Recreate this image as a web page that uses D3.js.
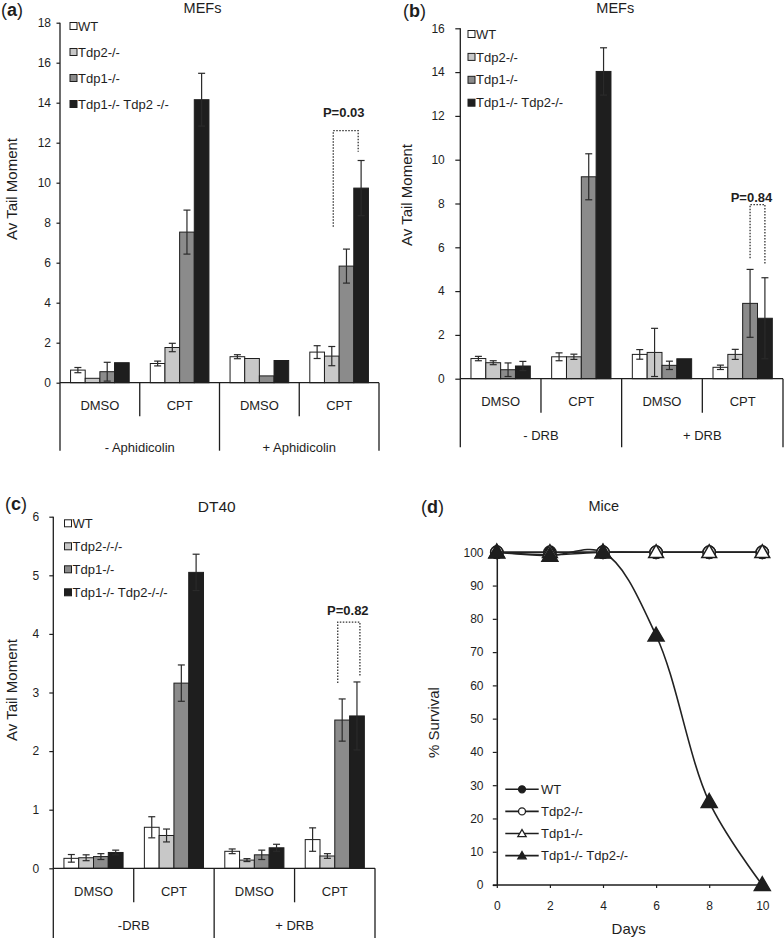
<!DOCTYPE html>
<html><head><meta charset="utf-8">
<script src="https://cdn.jsdelivr.net/npm/d3@7"></script>
<style>
body{margin:0;background:#fff}
svg{display:block}
text{font-family:"Liberation Sans",Arial,Helvetica,sans-serif;fill:#1e1e1e}
</style>
</head><body>
<svg id="chart" width="784" height="938"></svg>
<script>
// ---------------- DATA ----------------
const seriesA = ["WT", "Tdp2-/-", "Tdp1-/-", "Tdp1-/- Tdp2 -/-"];
const seriesB = ["WT", "Tdp2-/-", "Tdp1-/-", "Tdp1-/- Tdp2-/-"];
const seriesC = ["WT", "Tdp2-/-/-", "Tdp1-/-", "Tdp1-/- Tdp2-/-/-"];
const seriesD = ["WT", "Tdp2-/-", "Tdp1-/-", "Tdp1-/-  Tdp2-/-"];
const treatments = ["DMSO", "CPT"];
const conditionsA = ["- Aphidicolin", "+ Aphidicolin"];
const conditionsB = ["- DRB", "+ DRB"];
const conditionsC = ["-DRB", "+ DRB"];
const ticksA = [0, 2, 4, 6, 8, 10, 12, 14, 16, 18];
const ticksB = [0, 2, 4, 6, 8, 10, 12, 14, 16];
const ticksC = [0, 1, 2, 3, 4, 5, 6];
const ticksDy = [0, 10, 20, 30, 40, 50, 60, 70, 80, 90, 100];
const ticksDx = [0, 2, 4, 6, 8, 10];

// values per series; groups: DMSO(-), CPT(-), DMSO(+), CPT(+)
const valuesA_WT = [0.63, 0.96, 1.30, 1.53];
const valuesA_Tdp2 = [0.22, 1.76, 1.21, 1.33];
const valuesA_Tdp1 = [0.55, 7.53, 0.34, 5.83];
const valuesA_Dbl = [1.00, 14.15, 1.11, 9.73];
const errorsA_WT = [0.13, 0.12, 0.10, 0.32];
const errorsA_Tdp2 = [0, 0.21, 0, 0.48];
const errorsA_Tdp1 = [0.47, 1.10, 0, 0.85];
const errorsA_Dbl = [0, 1.32, 0, 1.38];

const valuesB_WT = [0.92, 1.00, 1.11, 0.52];
const valuesB_Tdp2 = [0.73, 1.00, 1.20, 1.11];
const valuesB_Tdp1 = [0.41, 9.22, 0.61, 3.44];
const valuesB_Dbl = [0.58, 14.03, 0.91, 2.76];
const errorsB_WT = [0.10, 0.18, 0.22, 0.10];
const errorsB_Tdp2 = [0.09, 0.12, 1.10, 0.23];
const errorsB_Tdp1 = [0.31, 1.05, 0.19, 1.55];
const errorsB_Dbl = [0.21, 1.08, 0, 1.85];

const valuesC_WT = [0.17, 0.70, 0.29, 0.49];
const valuesC_Tdp2 = [0.18, 0.56, 0.14, 0.21];
const valuesC_Tdp1 = [0.20, 3.16, 0.23, 2.53];
const valuesC_Dbl = [0.27, 5.05, 0.35, 2.60];
const errorsC_WT = [0.065, 0.18, 0.04, 0.20];
const errorsC_Tdp2 = [0.05, 0.11, 0.025, 0.04];
const errorsC_Tdp1 = [0.05, 0.31, 0.08, 0.36];
const errorsC_Dbl = [0.04, 0.31, 0.06, 0.58];

const days = [0, 2, 4, 6, 8, 10];
const survWT = [100, 100, 100, 100, 100, 100];
const survTdp2 = [100, 99.3, 100, 100, 100, 100];
const survTdp1 = [100, 100, 100, 100, 100, 100];
const survDbl = [100, 99, 100, 75, 25, 0];

// p-value annotations: [label, leftSeriesPos, rightSeriesPos, topValue, leftBottom, rightBottom]
const pA = ["P=0.03", 1.1, 2.8, 12.6, 7.8, 11.55];
const pB = ["P=0.84", 2.0, 3.0, 7.95, 5.5, 5.2];
const pC = ["P=0.82", 1.7, 3.2, 4.2, 3.16, 3.27];

// ---------------- STYLE ----------------
const barColors = ["#ffffff", "#c8c8c8", "#8b8b8b", "#1e1e1e"];
const ink = "#1e1e1e";
const svg = d3.select("#chart");

function barPanel(o) {
  const g = svg.append("g");
  const y = d3.scaleLinear().domain([0, o.yMax]).range([o.yZero, o.yTop]);
  const groupKeys = [];
  o.conditions.forEach((c, ci) => o.treatments.forEach((t, ti) => groupKeys.push(ci * 2 + ti)));
  const xg = d3.scaleBand().domain(groupKeys).range([o.x0, o.x1]).paddingInner(0).paddingOuter(0);
  const xs = d3.scaleBand().domain(d3.range(o.series.length)).range([0, xg.bandwidth()]).paddingInner(0).paddingOuter(0.72);

  // bars
  const data = [];
  o.series.forEach((s, si) => groupKeys.forEach((gk, gi) => data.push({si, gk, v: o.values[si][gi], e: o.errors[si][gi]})));
  g.selectAll("rect.bar").data(data).join("rect").attr("class", "bar")
    .attr("x", d => xg(d.gk) + xs(d.si))
    .attr("y", d => y(d.v))
    .attr("width", xs.bandwidth())
    .attr("height", d => y(0) - y(d.v))
    .attr("fill", d => barColors[d.si])
    .attr("stroke", ink).attr("stroke-width", 1);
  // error bars
  const eb = data.filter(d => d.e > 0);
  const cx = d => xg(d.gk) + xs(d.si) + xs.bandwidth() / 2;
  const errG = g.append("g").attr("stroke", "#2a2a2a").attr("stroke-width", 1.2);
  errG.selectAll("line.v").data(eb).join("line").attr("class", "v")
    .attr("x1", cx).attr("x2", cx).attr("y1", d => y(Math.max(0, d.v - d.e))).attr("y2", d => y(d.v + d.e));
  errG.selectAll("line.t").data(eb).join("line").attr("class", "t")
    .attr("x1", d => cx(d) - 3.5).attr("x2", d => cx(d) + 3.5).attr("y1", d => y(d.v + d.e)).attr("y2", d => y(d.v + d.e));
  errG.selectAll("line.b").data(eb).join("line").attr("class", "b")
    .attr("x1", d => cx(d) - 3.5).attr("x2", d => cx(d) + 3.5).attr("y1", d => y(Math.max(0, d.v - d.e))).attr("y2", d => y(Math.max(0, d.v - d.e)));

  // y axis
  const ax = g.append("g").attr("transform", `translate(${o.x0},0)`)
    .call(d3.axisLeft(y).tickValues(o.ticks).tickSize(o.tickSize).tickSizeOuter(0).tickPadding(o.tickPad).tickFormat(d3.format("d")));
  ax.select(".domain").remove();
  ax.selectAll(".tick line").attr("stroke", ink).attr("stroke-width", 1.2);
  ax.selectAll(".tick text").attr("font-size", 12).attr("font-family", "Liberation Sans, Arial, sans-serif").attr("fill", ink);

  // axis frame and category table
  const lines = g.append("g").attr("stroke", ink).attr("stroke-width", 1.3).attr("fill", "none");
  lines.append("line").attr("x1", o.x0).attr("x2", o.x0).attr("y1", o.yTop).attr("y2", o.yZero + o.outerLen);
  lines.append("line").attr("x1", o.x0).attr("x2", o.x1).attr("y1", o.yZero).attr("y2", o.yZero);
  groupKeys.forEach((gk, gi) => {
    const right = xg(gk) + xg.bandwidth();
    const len = (gi % 2 === 1) ? o.outerLen : o.innerLen;
    lines.append("line").attr("x1", right).attr("x2", right).attr("y1", o.yZero).attr("y2", o.yZero + len);
  });
  g.selectAll("text.cat").data(groupKeys).join("text").attr("class", "cat")
    .attr("x", gk => xg(gk) + xg.bandwidth() / 2).attr("y", o.yZero + o.catOff)
    .attr("text-anchor", "middle").attr("font-size", 13).text(gk => o.treatments[gk % 2]);
  g.selectAll("text.cond").data(o.conditions).join("text").attr("class", "cond")
    .attr("x", (c, ci) => xg(ci * 2) + xg.bandwidth()).attr("y", o.yZero + o.condOff)
    .attr("text-anchor", "middle").attr("font-size", 13).text(c => c);

  // legend
  o.series.forEach((s, si) => {
    const cy = o.legY + si * o.legStep;
    g.append("rect").attr("x", o.legX).attr("y", cy - 3.5).attr("width", 7).attr("height", 7)
      .attr("fill", barColors[si]).attr("stroke", ink).attr("stroke-width", 1);
    g.append("text").attr("x", o.legX + 8).attr("y", cy + 4.6).attr("font-size", 13).text(s);
  });

  // p-value bracket
  const p = o.p;
  const px = pos => xg(3) + xs(0) + xs.bandwidth() * (pos + 0.5);
  g.append("path").attr("fill", "none").attr("stroke", "#333").attr("stroke-width", 1.3).attr("stroke-dasharray", "1.5,1.5")
    .attr("d", `M${px(p[1])},${y(p[4])}V${y(p[3])}H${px(p[2])}V${y(p[5])}`);
  g.append("text").attr("x", (px(p[1]) + px(p[2])) / 2 + o.pDx).attr("y", y(p[3]) - o.pGap)
    .attr("text-anchor", "middle").attr("font-size", 13).attr("font-weight", "bold").text(p[0]);

  // y label, title, letter
  g.append("text").attr("transform", `translate(${o.ylX},${o.ylY}) rotate(-90)`).attr("text-anchor", "middle")
    .attr("font-size", 15).text("Av Tail Moment");
  g.append("text").attr("x", o.titleX).attr("y", o.titleY).attr("text-anchor", "middle").attr("font-size", o.titleSize).text(o.title);
  const L = g.append("text").attr("x", o.letX).attr("y", o.letY).attr("font-size", 18);
  L.append("tspan").text("(");
  L.append("tspan").attr("font-weight", "bold").text(o.letter);
  L.append("tspan").text(")");
}

barPanel({
  series: seriesA, treatments, conditions: conditionsA,
  values: [valuesA_WT, valuesA_Tdp2, valuesA_Tdp1, valuesA_Dbl],
  errors: [errorsA_WT, errorsA_Tdp2, errorsA_Tdp1, errorsA_Dbl],
  yMax: 18, ticks: ticksA, x0: 60, x1: 379, yZero: 382.7, yTop: 22.7,
  tickSize: 3.5, tickPad: 5.5, innerLen: 33.5, outerLen: 68, catOff: 27, condOff: 69.5,
  legX: 70, legY: 26, legStep: 26, p: pA, pGap: 14, pDx: -2,
  ylX: 17, ylY: 189, title: "MEFs", titleX: 202.5, titleY: 13, titleSize: 14.5,
  letter: "a", letX: 1, letY: 16
});
barPanel({
  series: seriesB, treatments, conditions: conditionsB,
  values: [valuesB_WT, valuesB_Tdp2, valuesB_Tdp1, valuesB_Dbl],
  errors: [errorsB_WT, errorsB_Tdp2, errorsB_Tdp1, errorsB_Dbl],
  yMax: 16, ticks: ticksB, x0: 460.3, x1: 783, yZero: 378.7, yTop: 28.3,
  tickSize: 5, tickPad: 10.5, innerLen: 34, outerLen: 68.6, catOff: 27.3, condOff: 61.3,
  legX: 468, legY: 34, legStep: 22.9, p: pB, pGap: 2.6, pDx: -6,
  ylX: 412, ylY: 195, title: "MEFs", titleX: 615.3, titleY: 13.3, titleSize: 14.5,
  letter: "b", letX: 403, letY: 17
});
barPanel({
  series: seriesC, treatments, conditions: conditionsC,
  values: [valuesC_WT, valuesC_Tdp2, valuesC_Tdp1, valuesC_Dbl],
  errors: [errorsC_WT, errorsC_Tdp2, errorsC_Tdp1, errorsC_Dbl],
  yMax: 6, ticks: ticksC, x0: 53.3, x1: 375, yZero: 868.3, yTop: 516.7,
  tickSize: 4, tickPad: 10, innerLen: 34, outerLen: 70, catOff: 27.4, condOff: 61.7,
  legX: 64.5, legY: 523.3, legStep: 23, p: pC, pGap: 7, pDx: -1,
  ylX: 17, ylY: 690, title: "DT40", titleX: 216.7, titleY: 511.7, titleSize: 15.5,
  letter: "c", letX: 5, letY: 510
});

// ---------------- PANEL D ----------------
(function () {
  const g = svg.append("g");
  const x = d3.scaleLinear().domain([0, 10]).range([496.8, 762.3]);
  const y = d3.scaleLinear().domain([0, 100]).range([885, 552.3]);
  const ya = g.append("g").attr("transform", `translate(${x(0)},0)`)
    .call(d3.axisLeft(y).tickValues(ticksDy).tickSize(4).tickSizeOuter(0).tickPadding(9.3));
  ya.select(".domain").attr("stroke", ink).attr("stroke-width", 1.5);
  const xa = g.append("g").attr("transform", `translate(0,${y(0)})`)
    .call(d3.axisBottom(x).tickValues(ticksDx).tickSize(3).tickSizeOuter(0).tickPadding(13.5));
  xa.select(".domain").attr("stroke", ink).attr("stroke-width", 1.5).attr("d", `M${x(0) - 4},0H${x(10) + 1}`);
  [ya, xa].forEach(a => {
    a.selectAll(".tick line").attr("stroke", ink).attr("stroke-width", 1.2);
    a.selectAll(".tick text").attr("font-size", 12).attr("font-family", "Liberation Sans, Arial, sans-serif").attr("fill", ink);
  });

  const series = [
    {name: seriesD[0], vals: survWT, sym: d3.symbolCircle, size: 120, fill: ink},
    {name: seriesD[1], vals: survTdp2, sym: d3.symbolCircle, size: 120, fill: "#fff"},
    {name: seriesD[2], vals: survTdp1, sym: d3.symbolTriangle, size: 95, fill: "#fff"},
    {name: seriesD[3], vals: survDbl, sym: d3.symbolTriangle, size: 110, fill: ink}
  ];
  const line = d3.line().x((d, i) => x(days[i])).y(d => y(d)).curve(d3.curveCatmullRom.alpha(0.5));
  series.forEach(s => {
    g.append("path").attr("d", line(s.vals)).attr("fill", "none").attr("stroke", "#222").attr("stroke-width", 1.6);
  });
  series.forEach(s => {
    g.selectAll(null).data(s.vals).join("path")
      .attr("transform", (d, i) => `translate(${x(days[i])},${y(d) + (s.sym === d3.symbolTriangle ? 1 : 0)})`)
      .attr("d", d3.symbol(s.sym, s.size)).attr("fill", s.fill).attr("stroke", ink).attr("stroke-width", 1.5);
  });

  // legend
  series.forEach((s, i) => {
    const cy = 789.3 + i * 22.1;
    g.append("line").attr("x1", 505.3).attr("x2", 538.7).attr("y1", cy).attr("y2", cy).attr("stroke", ink).attr("stroke-width", 1.6);
    g.append("path").attr("transform", `translate(522,${cy + (s.sym === d3.symbolTriangle ? 0.8 : 0)})`)
      .attr("d", d3.symbol(s.sym, s.sym === d3.symbolCircle ? 38 : 30)).attr("fill", s.fill).attr("stroke", ink).attr("stroke-width", 1.3);
    g.append("text").attr("x", 541).attr("y", cy + 4.6).attr("font-size", 13).text(s.name);
  });

  g.append("text").attr("transform", "translate(439,722.5) rotate(-90)").attr("text-anchor", "middle").attr("font-size", 15).text("% Survival");
  g.append("text").attr("x", 628.7).attr("y", 934).attr("text-anchor", "middle").attr("font-size", 15).text("Days");
  g.append("text").attr("x", 603.7).attr("y", 510.7).attr("text-anchor", "middle").attr("font-size", 14.5).text("Mice");
  const L = g.append("text").attr("x", 421).attr("y", 513).attr("font-size", 18);
  L.append("tspan").text("(");
  L.append("tspan").attr("font-weight", "bold").text("d");
  L.append("tspan").text(")");
})();
</script>
</body></html>
